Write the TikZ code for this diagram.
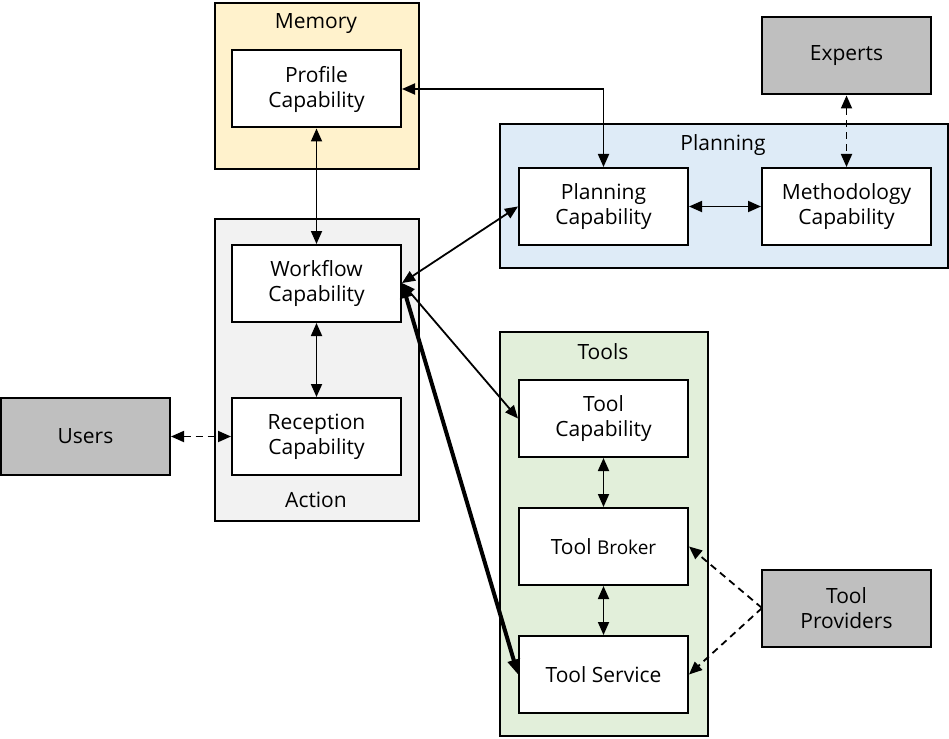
\documentclass[tikz,border=0pt]{standalone}
\usepackage{fontspec}
\setmainfont{Open Sans}
\usetikzlibrary{arrows.meta}
\definecolor{memfill}{HTML}{FFF2CC}
\definecolor{actfill}{HTML}{F2F2F2}
\definecolor{planfill}{HTML}{DEEBF7}
\definecolor{toolfill}{HTML}{E2EFDA}
\definecolor{extfill}{HTML}{BFBFBF}
\begin{document}
\begin{tikzpicture}[x=1pt,y=-1pt,
  groupbox/.style={draw=black,line width=2pt,rectangle,inner sep=0pt,anchor=north west},
  capbox/.style={draw=black,line width=2pt,fill=white,rectangle,minimum width=169pt,minimum height=77pt,inner sep=0pt,align=center,font=\fontsize{21}{25}\selectfont},
  extbox/.style={capbox,fill=extfill},
  grouptitle/.style={font=\fontsize{21}{25}\selectfont,inner sep=0pt},
  onetip/.style={-{Triangle[length=13pt,width=11pt]}},
  twotip/.style={{Triangle[length=13pt,width=11pt]}-{Triangle[length=13pt,width=11pt]}},
  conn/.style={twotip,line width=1.8pt},
  dconn/.style={twotip,line width=1.8pt,dash pattern=on 7pt off 5pt},
]
\useasboundingbox (0,0) rectangle (949,738);
% groups
\node[groupbox,fill=memfill,minimum width=204pt,minimum height=166pt] (mem) at (214,2) {};
\node[groupbox,fill=actfill,minimum width=204pt,minimum height=302pt] (act) at (214,218) {};
\node[groupbox,fill=planfill,minimum width=448pt,minimum height=144pt] (plan) at (499,123) {};
\node[groupbox,fill=toolfill,minimum width=208pt,minimum height=404pt] (tools) at (499,331) {};
\node[grouptitle] (memt) at (316,24) {Memory};
\node[grouptitle] (actt) at (316,500) {Action};
\node[grouptitle] (plant) at (723,145) {Planning};
\node[grouptitle] (toolt) at (603,352) {Tools};
% nodes
\node[capbox] (profile) at (316.5,89) {Profile\\Capability};
\node[capbox] (workflow) at (316.5,283.5) {Workflow\\Capability};
\node[capbox] (reception) at (316.5,436.5) {Reception\\Capability};
\node[extbox] (users) at (85.5,436.5) {Users};
\node[capbox] (planning) at (603.5,206.5) {Planning\\Capability};
\node[capbox] (method) at (846.5,206.5) {Methodology\\Capability};
\node[extbox] (experts) at (846.5,56) {Experts};
\node[capbox] (toolcap) at (603.5,418.5) {Tool\\Capability};
\node[capbox] (broker) at (603.5,546.5) {Tool {\fontsize{19}{23}\selectfont Broker}};
\node[capbox] (service) at (603.5,674.5) {Tool Service};
\node[extbox] (providers) at (846.5,608.5) {Tool\\Providers};
\coordinate (wfr) at (402,283);
\coordinate (provl) at (762,608);
% connectors
\draw[conn] (profile.south) -- (workflow.north);
\draw[conn] (workflow.south) -- (reception.north);
\draw[conn] (profile.east) -| (planning.north);
\draw[conn] (wfr) -- (planning.west);
\draw[conn] (wfr) -- (toolcap.west);
\draw[line width=4pt,{Triangle[length=15pt,width=12pt]}-{Triangle[length=15pt,width=12pt]}] (wfr) -- (service.west);
\draw[conn] (planning.east) -- (method.west);
\draw[conn] (toolcap.south) -- (broker.north);
\draw[conn] (broker.south) -- (service.north);
\draw[dconn] (users.east) -- (reception.west);
\draw[dconn] (experts.south) -- (method.north);
\draw[onetip,line width=1.8pt,dash pattern=on 7pt off 5pt] (provl) -- (broker.east);
\draw[onetip,line width=1.8pt,dash pattern=on 7pt off 5pt] (provl) -- (service.east);
\end{tikzpicture}
\end{document}
